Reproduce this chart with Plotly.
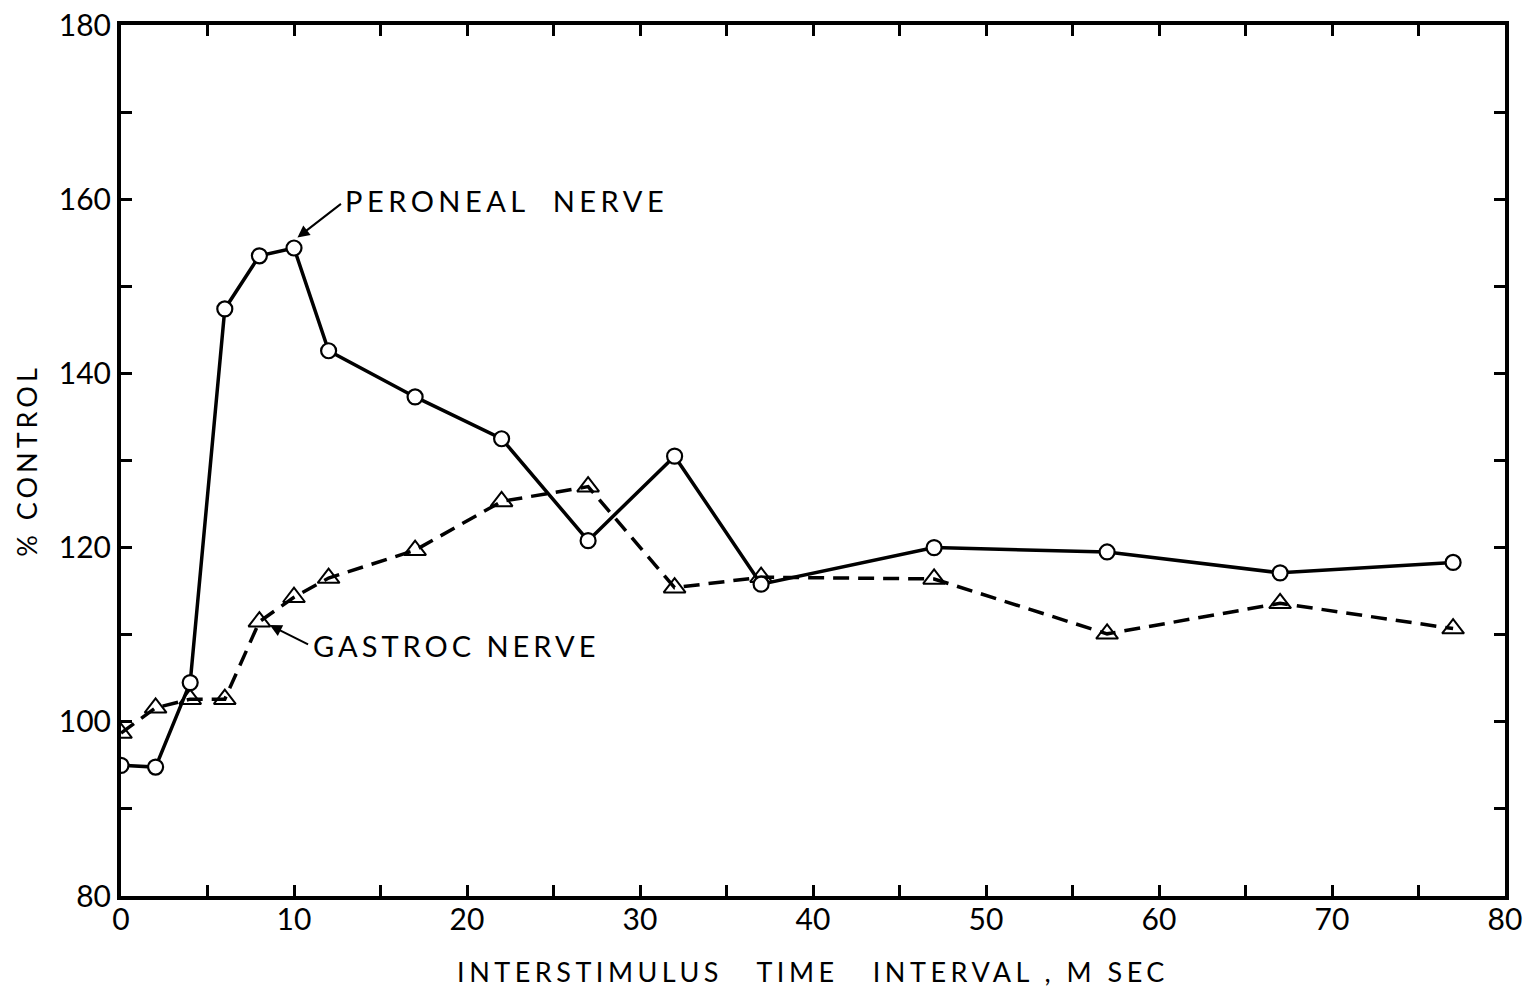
import plotly.graph_objects as go

interval_ms = [0, 2, 4, 6, 8, 10, 12, 17, 22, 27, 32, 37, 47, 57, 67, 77]
peroneal = [95.0, 94.8, 104.5, 147.4, 153.5, 154.4, 142.6, 137.3, 132.5, 120.8, 130.5, 115.8, 120.0, 119.5, 117.1, 118.3]
gastroc = [98.7, 101.6, 102.6, 102.6, 111.5, 114.3, 116.5, 119.7, 125.3, 127.0, 115.4, 116.6, 116.4, 110.1, 113.6, 110.7]

x_ticks = list(range(0, 81, 5))
x_labels = [str(v) if v % 10 == 0 else "" for v in x_ticks]
y_ticks = list(range(80, 181, 10))
y_labels = [str(v) if v % 20 == 0 else "" for v in y_ticks]

FONT = "Lato"


def spaced(s, px):
    return f'<span style="letter-spacing:{px}px">{s}</span>'


fig = go.Figure()
fig.add_trace(go.Scatter(
    x=interval_ms, y=gastroc, mode="lines+markers",
    line=dict(color="black", width=3.5, dash="16px,9px"),
    marker=dict(symbol="triangle-up-open", size=19, color="black", line=dict(width=2, color="black")),
    showlegend=False))
fig.add_trace(go.Scatter(
    x=interval_ms, y=peroneal, mode="lines+markers",
    line=dict(color="black", width=3.5),
    marker=dict(symbol="circle", size=15, color="white", line=dict(width=2.2, color="black")),
    showlegend=False))

axis_common = dict(showgrid=False, zeroline=False, showline=True, linecolor="black", linewidth=4,
                   mirror="allticks", ticks="inside", ticklen=11, tickwidth=2.5, tickcolor="black",
                   automargin=False,
                   tickfont=dict(family=FONT, size=30, color="black"))

fig.update_xaxes(range=[0, 80], tickvals=x_ticks, ticktext=x_labels, ticklabelstandoff=-6,
                 title=dict(text=spaced("INTERSTIMULUS   TIME   INTERVAL , M SEC", 4.5),
                            font=dict(family=FONT, size=27, color="black"), standoff=29),
                 **axis_common)
fig.update_yaxes(range=[80, 180], tickvals=y_ticks, ticktext=y_labels,
                 title=dict(text=spaced("% CONTROL", 4), font=dict(family=FONT, size=27, color="black"), standoff=14),
                 **axis_common)

# Labels
fig.add_annotation(x=12.85, y=159.8, xref="x", yref="y", text=spaced("PERONEAL  NERVE", 4.5), showarrow=False,
                   xanchor="left", yanchor="middle", font=dict(family=FONT, size=29, color="black"))
fig.add_annotation(x=10.2, y=155.6, ax=12.8, ay=159.6, axref="x", ayref="y", xref="x", yref="y",
                   text="", showarrow=True, arrowhead=2, arrowsize=1.2, arrowwidth=2, arrowcolor="black")
fig.add_annotation(x=11.0, y=108.8, xref="x", yref="y", text=spaced("GASTROC NERVE", 4), showarrow=False,
                   xanchor="left", yanchor="middle", font=dict(family=FONT, size=29, color="black"))
fig.add_annotation(x=8.6, y=111.1, ax=10.9, ay=108.8, axref="x", ayref="y", xref="x", yref="y",
                   text="", showarrow=True, arrowhead=2, arrowsize=1.2, arrowwidth=2, arrowcolor="black")

fig.update_layout(width=1528, height=991, margin=dict(l=121, r=23, t=25, b=95),
                  plot_bgcolor="white", paper_bgcolor="white")

fig.write_html("out.html")
